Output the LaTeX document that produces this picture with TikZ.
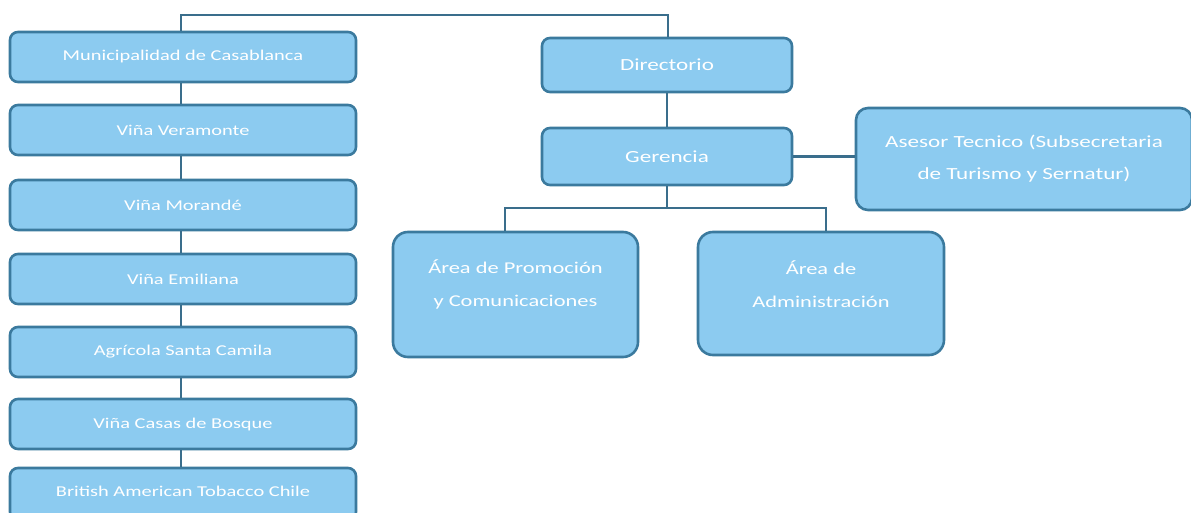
\documentclass[tikz,border=0pt]{standalone}
\usepackage{fontspec}
\newfontfamily\boxfont[FakeStretch=1.36]{Carlito}
\definecolor{boxfill}{HTML}{8CCBF0}
\definecolor{boxline}{HTML}{3B7A9E}
\definecolor{connline}{HTML}{3A6E8C}
\tikzset{
  orgbox/.style={draw=boxline, fill=boxfill, line width=2.6pt, rounded corners=8pt,
    inner sep=0pt, align=center, text=white, font=\boxfont\fontsize{15}{18}\selectfont},
  bigtext/.style={font=\boxfont\fontsize{17}{24}\selectfont},
  label/.style={text=white, inner sep=0pt, align=center},
  smallbox/.style={orgbox, minimum width=346pt, minimum height=50pt},
  conn/.style={draw=connline, line width=2.6pt}
}
\begin{document}
\begin{tikzpicture}[x=1pt,y=-1pt]
\useasboundingbox (0,0) rectangle (1191,513);
\clip (0,0) rectangle (1191,513);
\fill[white] (0,0) rectangle (1191,513);
\coordinate (tl) at (181,15);
\coordinate (tr) at (668,15);
% left column
\node[smallbox] (m1) at (183,57) {Municipalidad de Casablanca};
\node[smallbox] (m2) at (183,130) {Viña Veramonte};
\node[smallbox] (m3) at (183,205) {Viña Morandé};
\node[smallbox] (m4) at (183,279) {Viña Emiliana};
\node[smallbox] (m5) at (183,352) {Agrícola Santa Camila};
\node[smallbox] (m6) at (183,424) {Viña Casas de Bosque};
\node[smallbox, minimum height=52pt] (m7) at (183,494) {};
\node[label, font=\boxfont\fontsize{15}{18}\selectfont] (m7t) at (183,491) {British American Tobacco Chile};
% right part
\node[orgbox, bigtext, minimum width=250pt, minimum height=54pt] (dir) at (667,65) {Directorio};
\node[orgbox, bigtext, minimum width=250pt, minimum height=57pt] (ger) at (667,156.5) {Gerencia};
\node[orgbox, bigtext, rounded corners=12pt, minimum width=336pt, minimum height=102pt] (ase) at (1024,159) {Asesor Tecnico (Subsecretaria\\[8pt]de Turismo y Sernatur)};
\node[orgbox, rounded corners=15pt, minimum width=245pt, minimum height=125pt] (pro) at (515.5,294.5) {};
\node[label, font=\boxfont\fontsize{16.5}{24}\selectfont] (prot) at (515.5,284) {Área de Promoción\\[9pt]y Comunicaciones};
\node[orgbox, rounded corners=15pt, minimum width=246pt, minimum height=123pt] (adm) at (821,293.5) {};
\node[label, font=\boxfont\fontsize{16.5}{24}\selectfont] (admt) at (821,284) {Área de\\[9pt]Administración};
% connectors
\draw[conn] (m1.north -| tl) -- (tl) -- (tr) -- (dir.north -| tr);
\foreach \a/\b in {m1/m2,m2/m3,m3/m4,m4/m5,m5/m6,m6/m7}{
  \draw[conn] ([xshift=-2pt]\a.south) -- ([xshift=-2pt]\b.north);
}
\draw[conn] (dir) -- (ger);
\draw[conn] (ger.east) -- (ase.west |- ger.east);
\coordinate (gb) at (667,208);
\draw[conn] (ger.south) -- (gb);
\draw[conn] (pro.north -| 505,0) -- (505,208) -- (826,208) -- (adm.north -| 826,0);
\end{tikzpicture}
\end{document}
